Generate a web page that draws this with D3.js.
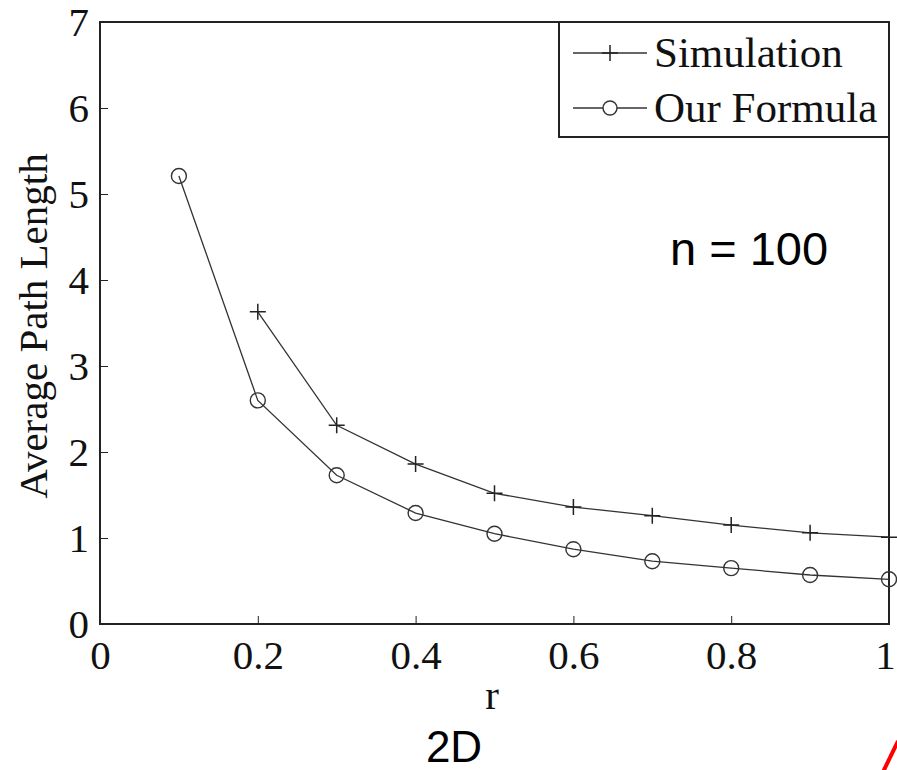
<!DOCTYPE html>
<html>
<head>
<meta charset="utf-8">
<script src="https://cdn.jsdelivr.net/npm/d3@7"></script>
<style>
  body { margin: 0; background: #fff; }
  .axis path, .axis line { stroke: #222; }
  .axis text { font-family: "Liberation Serif", "Times New Roman", serif; font-size: 41px; fill: #111; }
</style>
</head>
<body>
<script>
//chart values
var rValues = [0.1, 0.2, 0.3, 0.4, 0.5, 0.6, 0.7, 0.8, 0.9, 1.0];
var simulation = [null, 3.63, 2.31, 1.86, 1.52, 1.36, 1.26, 1.15, 1.06, 1.01];
var formula = [5.21, 2.60, 1.73, 1.29, 1.05, 0.87, 0.73, 0.65, 0.57, 0.52];
var xTicks = [0, 0.2, 0.4, 0.6, 0.8, 1];
var yTicks = [0, 1, 2, 3, 4, 5, 6, 7];
var legendNames = ["Simulation", "Our Formula"];

var w = 897, h = 770;
var plotL = 100, plotR = 889, plotT = 22, plotB = 624;

var svg = d3.select("body")
    .append("svg")
    .attr("width", w)
    .attr("height", h);

//scales
var x = d3.scaleLinear()
    .domain([0, 1])
    .range([plotL, plotR]);

var y = d3.scaleLinear()
    .domain([0, 7])
    .range([plotB, plotT]);

//frame box
svg.append("rect")
    .attr("x", plotL)
    .attr("y", plotT)
    .attr("width", plotR - plotL)
    .attr("height", plotB - plotT)
    .style("fill", "none")
    .style("stroke", "#222")
    .style("stroke-width", 2);

//x axis, ticks pointing inward
var xAxis = d3.axisBottom(x)
    .tickValues(xTicks)
    .tickFormat(d3.format("~g"))
    .tickSizeInner(-8)
    .tickSizeOuter(0)
    .tickPadding(16);

svg.append("g")
    .attr("class", "axis")
    .attr("transform", "translate(0," + plotB + ")")
    .call(xAxis)
    .call(function(g){ g.select(".domain").remove(); })
    .call(function(g){
        //keep the last label inside the page
        g.selectAll(".tick text").filter(function(d){ return d === 1; })
            .attr("dx", -4);
    });

//y axis
var yAxis = d3.axisLeft(y)
    .tickValues(yTicks)
    .tickFormat(d3.format("d"))
    .tickSizeInner(-8)
    .tickSizeOuter(0)
    .tickPadding(11);

svg.append("g")
    .attr("class", "axis")
    .attr("transform", "translate(" + plotL + ",0)")
    .call(yAxis)
    .call(function(g){ g.select(".domain").remove(); });

//build point lists
var simPts = rValues.map(function(r, i){ return {r: r, v: simulation[i]}; })
    .filter(function(d){ return d.v !== null; });
var formPts = rValues.map(function(r, i){ return {r: r, v: formula[i]}; });

var line = d3.line()
    .x(function(d){ return x(d.r); })
    .y(function(d){ return y(d.v); });

svg.append("path")
    .datum(simPts)
    .attr("d", line)
    .style("fill", "none")
    .style("stroke", "#333")
    .style("stroke-width", 1.3);

svg.append("path")
    .datum(formPts)
    .attr("d", line)
    .style("fill", "none")
    .style("stroke", "#333")
    .style("stroke-width", 1.3);

//plus markers
svg.selectAll(".plus")
    .data(simPts)
    .enter()
    .append("path")
    .attr("class", "plus")
    .attr("d", "M-8,0H8M0,-8V8")
    .attr("transform", function(d){ return "translate(" + x(d.r) + "," + y(d.v) + ")"; })
    .style("stroke", "#222")
    .style("stroke-width", 1.5);

//circle markers
svg.selectAll(".ring")
    .data(formPts)
    .enter()
    .append("circle")
    .attr("class", "ring")
    .attr("cx", function(d){ return x(d.r); })
    .attr("cy", function(d){ return y(d.v); })
    .attr("r", 7.5)
    .style("fill", "none")
    .style("stroke", "#333")
    .style("stroke-width", 1.4);

//legend
var legend = svg.append("g");
legend.append("rect")
    .attr("x", 559)
    .attr("y", plotT)
    .attr("width", plotR - 559)
    .attr("height", 115)
    .style("fill", "#fff")
    .style("stroke", "#222")
    .style("stroke-width", 2);

legendNames.forEach(function(name, i){
    var ly = 53 + i * 55;
    legend.append("line")
        .attr("x1", 573).attr("x2", 647)
        .attr("y1", ly).attr("y2", ly)
        .style("stroke", "#333").style("stroke-width", 1.3);
    if (i === 0) {
        legend.append("path")
            .attr("d", "M-8,0H8M0,-8V8")
            .attr("transform", "translate(610," + ly + ")")
            .style("stroke", "#222").style("stroke-width", 1.5);
    } else {
        legend.append("circle")
            .attr("cx", 610).attr("cy", ly).attr("r", 7)
            .style("fill", "#fff").style("stroke", "#333").style("stroke-width", 1.4);
    }
    legend.append("text")
        .attr("x", 654)
        .attr("y", ly + 14)
        .style("font-family", "'Liberation Serif', serif")
        .style("font-size", "43px")
        .style("fill", "#111")
        .text(name);
});

//axis titles
svg.append("text")
    .attr("x", 492)
    .attr("y", 709)
    .attr("text-anchor", "middle")
    .style("font-family", "'Liberation Serif', serif")
    .style("font-size", "41px")
    .style("fill", "#111")
    .text("r");

svg.append("text")
    .attr("transform", "translate(47,326) rotate(-90)")
    .attr("text-anchor", "middle")
    .style("font-family", "'Liberation Serif', serif")
    .style("font-size", "41px")
    .style("fill", "#111")
    .text("Average Path Length");

//annotations
svg.append("text")
    .attr("x", 749)
    .attr("y", 265)
    .attr("text-anchor", "middle")
    .style("font-family", "'Liberation Sans', Arial, sans-serif")
    .style("font-size", "47px")
    .style("fill", "#000")
    .text("n = 100");

svg.append("text")
    .attr("x", 454)
    .attr("y", 762)
    .attr("text-anchor", "middle")
    .style("font-family", "'Liberation Sans', Arial, sans-serif")
    .style("font-size", "44px")
    .style("fill", "#000")
    .text("2D");

svg.append("line")
    .attr("x1", 883).attr("y1", 772)
    .attr("x2", 898).attr("y2", 741)
    .style("stroke", "#f00")
    .style("stroke-width", 4);
</script>
</body>
</html>
